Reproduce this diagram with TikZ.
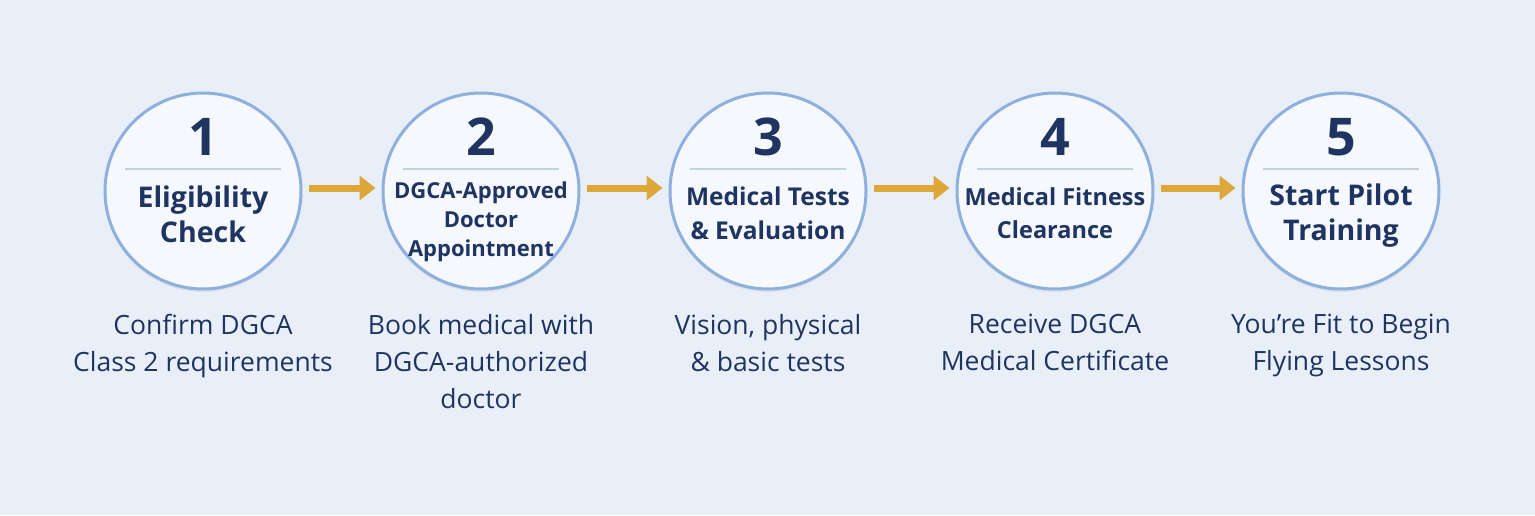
\documentclass[tikz,border=0pt]{standalone}
\usepackage{fontspec}
\setmainfont{Open Sans}
\usetikzlibrary{arrows.meta,shadows,positioning,calc}
\definecolor{bg}{RGB}{233,239,248}
\definecolor{ring}{RGB}{143,176,221}
\definecolor{disc}{RGB}{245,248,253}
\definecolor{ink}{RGB}{31,52,96}
\definecolor{gold}{RGB}{222,167,58}
\definecolor{rule}{RGB}{196,208,226}

\begin{document}
\begin{tikzpicture}[x=1pt,y=-1pt,
    stepdisc/.style={circle,draw=ring,line width=3pt,fill=disc,
                minimum size=196pt,
                drop shadow={opacity=0.12,shadow xshift=0pt,shadow yshift=-3pt}},
    num/.style={font=\fontsize{52}{52}\selectfont\bfseries,text=ink},
    title/.style={font=\fontsize{28.5}{35}\selectfont\bfseries,text=ink,align=center},
    desc/.style={font=\fontsize{26.5}{37}\selectfont,text=ink,align=center,anchor=north},
    arr/.style={-{Triangle[width=24pt,length=16pt]},line width=7pt,gold,
                shorten <=6pt,shorten >=6pt}]
    \fill[bg] (0,0) rectangle (1535,515);
    % discs
    \node[stepdisc] (c1) at (203,191) {};
    \node[stepdisc] (c2) at (481,191) {};
    \node[stepdisc] (c3) at (768,191) {};
    \node[stepdisc] (c4) at (1055,191) {};
    \node[stepdisc] (c5) at (1341,191) {};
    % numbers and rules
    \node[num] (n1) at (203,137) {1};
    \node[num] (n2) at (481,137) {2};
    \node[num] (n3) at (768,137) {3};
    \node[num] (n4) at (1055,137) {4};
    \node[num] (n5) at (1341,137) {5};
    \draw[rule,line width=1.2pt] ($(c1)+(-78,-22)$) -- ($(c1)+(78,-22)$);
    \draw[rule,line width=1.2pt] ($(c2)+(-78,-22)$) -- ($(c2)+(78,-22)$);
    \draw[rule,line width=1.2pt] ($(c3)+(-78,-22)$) -- ($(c3)+(78,-22)$);
    \draw[rule,line width=1.2pt] ($(c4)+(-78,-22)$) -- ($(c4)+(78,-22)$);
    \draw[rule,line width=1.2pt] ($(c5)+(-78,-22)$) -- ($(c5)+(78,-22)$);
    % titles
    \node[title] (t1) at (203,214) {Eligibility\\Check};
    \node[title,font=\fontsize{22}{29}\selectfont\bfseries] (t2) at (481,222)
      {DGCA-Approved\\Doctor\\Appointment};
    \node[title,font=\fontsize{24.5}{34}\selectfont\bfseries] (t3) at (768,213)
      {Medical Tests\\\& Evaluation};
    \node[title,font=\fontsize{23.5}{33}\selectfont\bfseries] (t4) at (1055,213)
      {Medical Fitness\\Clearance};
    \node[title] (t5) at (1341,216) {Start Pilot\\Training};
    % descriptions
    \node[desc] (d1) at (203,311) {Confirm DGCA\\Class 2 requirements};
    \node[desc] (d2) at (481,311) {Book medical with\\DGCA-authorized\\doctor};
    \node[desc] (d3) at (768,311) {Vision, physical\\\& basic tests};
    \node[desc] (d4) at (1055,311) {Receive DGCA\\Medical Certificate};
    \node[desc] (d5) at (1341,311) {You’re Fit to Begin\\Flying Lessons};
    % arrows
    \draw[arr] (c1.east |- 0,188) -- (c2.west |- 0,188);
    \draw[arr] (c2.east |- 0,188) -- (c3.west |- 0,188);
    \draw[arr] (c3.east |- 0,188) -- (c4.west |- 0,188);
    \draw[arr] (c4.east |- 0,188) -- (c5.west |- 0,188);
  \end{tikzpicture}
\end{document}
